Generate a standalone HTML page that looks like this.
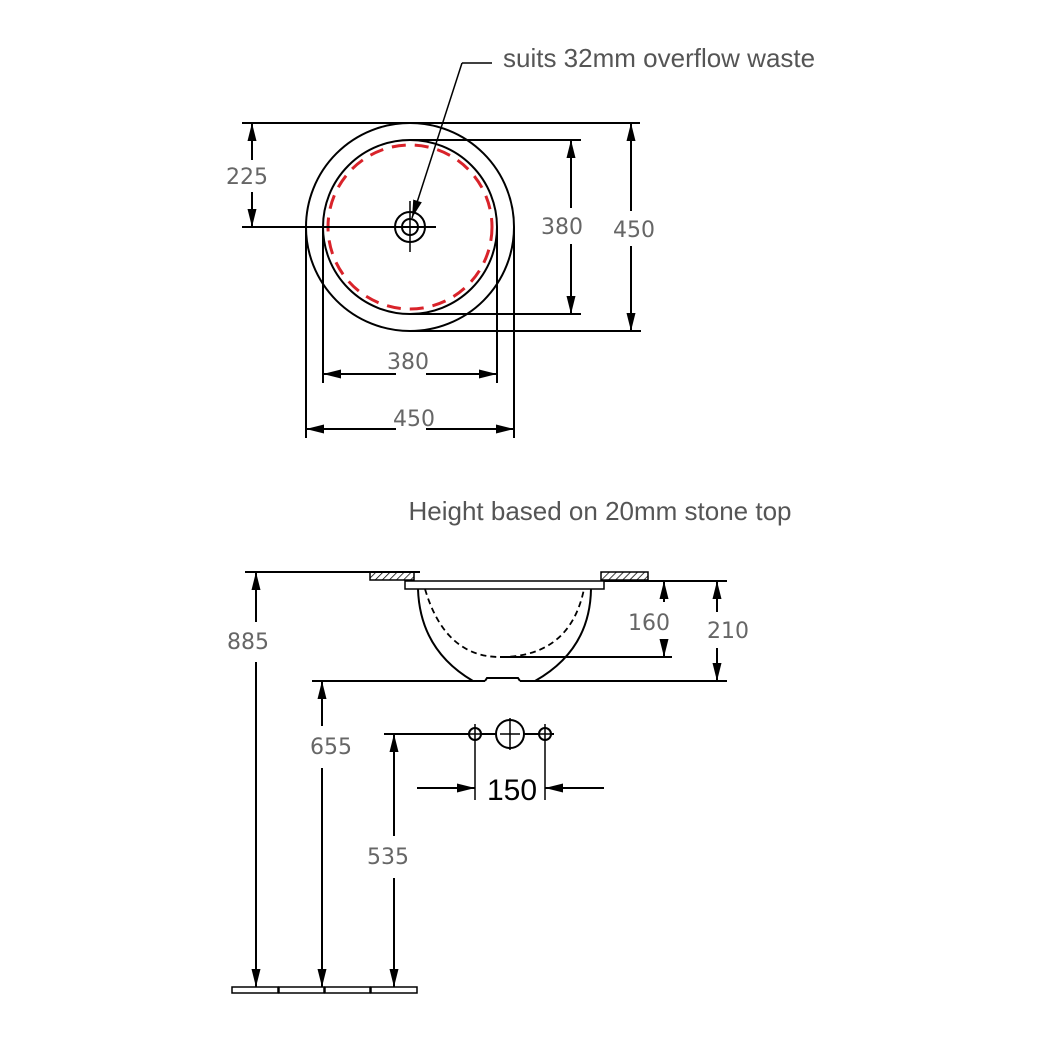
<!DOCTYPE html>
<html><head><style>html,body{margin:0;padding:0;background:#fff}svg{display:block}</style></head><body>
<svg width="1046" height="1048" viewBox="0 0 1046 1048" xmlns="http://www.w3.org/2000/svg" font-family="'DejaVu Sans','Liberation Sans',sans-serif">
<defs>
<marker id="b" viewBox="0 0 20 10" refX="20" refY="5" markerWidth="18" markerHeight="10" orient="auto-start-reverse" markerUnits="userSpaceOnUse"><path d="M0,0 L20,5 L0,10z" fill="#000"/></marker>
<pattern id="h" width="5" height="5" patternUnits="userSpaceOnUse" patternTransform="rotate(45)"><line x1="0" y1="0" x2="0" y2="5" stroke="#000" stroke-width="1.5"/></pattern>
</defs>
<g stroke="#000" stroke-width="2" fill="none">
<circle cx="410" cy="227" r="104"/>
<circle cx="410" cy="227" r="87"/>
<circle cx="410" cy="227" r="82" stroke="#d9232a" stroke-width="3" stroke-dasharray="14,9"/>
<circle cx="410" cy="227" r="15"/>
<circle cx="410" cy="227" r="8"/>
<line x1="410" y1="201" x2="410" y2="252" stroke-width="1.5"/>
<line x1="242" y1="123" x2="640" y2="123"/>
<line x1="242" y1="227" x2="436" y2="227"/>
<line x1="410" y1="140" x2="581" y2="140"/>
<line x1="410" y1="314" x2="581" y2="314"/>
<line x1="410" y1="331" x2="641" y2="331"/>
<line x1="323" y1="227" x2="323" y2="383"/>
<line x1="497" y1="227" x2="497" y2="383"/>
<line x1="306" y1="227" x2="306" y2="438"/>
<line x1="514" y1="227" x2="514" y2="438"/>
<line x1="252" y1="123" x2="252" y2="160" marker-start="url(#b)"/>
<line x1="252" y1="192" x2="252" y2="227" marker-end="url(#b)"/>
<line x1="571" y1="140" x2="571" y2="208" marker-start="url(#b)"/>
<line x1="571" y1="244" x2="571" y2="314" marker-end="url(#b)"/>
<line x1="631" y1="123" x2="631" y2="211" marker-start="url(#b)"/>
<line x1="631" y1="246" x2="631" y2="331" marker-end="url(#b)"/>
<line x1="323" y1="374" x2="396" y2="374" marker-start="url(#b)"/>
<line x1="426" y1="374" x2="497" y2="374" marker-end="url(#b)"/>
<line x1="306" y1="429" x2="396" y2="429" marker-start="url(#b)"/>
<line x1="426" y1="429" x2="514" y2="429" marker-end="url(#b)"/>
<line x1="462" y1="63" x2="412" y2="218" marker-end="url(#b)" stroke-width="1.5"/>
<line x1="462" y1="63" x2="492" y2="63" stroke-width="1.5"/>
<line x1="245" y1="572" x2="420" y2="572"/>
<rect x="370" y="572" width="44" height="8" fill="url(#h)" stroke-width="1.5"/>
<rect x="601" y="572" width="47" height="8" fill="url(#h)" stroke-width="1.5"/>
<rect x="405" y="581" width="199" height="8" stroke-width="1.5"/>
<line x1="604" y1="581" x2="727" y2="581"/>
<path d="M418,589 Q420,650 473,681"/>
<path d="M591,589 Q590,650 535,681"/>
<path d="M425,589 Q445,657 500,657 Q570,657 584,589" stroke-dasharray="6,4" stroke-width="1.8"/>
<line x1="500" y1="657" x2="672" y2="657"/>
<line x1="312" y1="681" x2="485" y2="681"/>
<path d="M485,681 L487,678 L518,678 L520,681"/>
<line x1="520" y1="681" x2="727" y2="681"/>
<line x1="664" y1="581" x2="664" y2="602" marker-start="url(#b)"/>
<line x1="664" y1="640" x2="664" y2="657" marker-end="url(#b)"/>
<line x1="717" y1="581" x2="717" y2="612" marker-start="url(#b)"/>
<line x1="717" y1="648" x2="717" y2="681" marker-end="url(#b)"/>
<line x1="256" y1="572" x2="256" y2="622" marker-start="url(#b)"/>
<line x1="256" y1="662" x2="256" y2="987" marker-end="url(#b)"/>
<line x1="322" y1="681" x2="322" y2="726" marker-start="url(#b)"/>
<line x1="322" y1="768" x2="322" y2="987" marker-end="url(#b)"/>
<line x1="394" y1="734" x2="394" y2="836" marker-start="url(#b)"/>
<line x1="394" y1="878" x2="394" y2="987" marker-end="url(#b)"/>
<line x1="384" y1="734" x2="469" y2="734"/>
<line x1="481" y1="734" x2="496" y2="734"/>
<line x1="524" y1="734" x2="539" y2="734"/>
<line x1="551" y1="734" x2="556" y2="734" stroke-dasharray="3,3"/>
<circle cx="475" cy="734" r="6"/><line x1="469" y1="734" x2="481" y2="734" stroke-width="1.5"/><line x1="475" y1="724" x2="475" y2="800" stroke-width="1.5"/>
<circle cx="545" cy="734" r="6"/><line x1="539" y1="734" x2="551" y2="734" stroke-width="1.5"/><line x1="545" y1="724" x2="545" y2="800" stroke-width="1.5"/>
<circle cx="510" cy="734" r="14"/><line x1="500" y1="734" x2="520" y2="734" stroke-width="1.5"/><line x1="510" y1="718" x2="510" y2="750" stroke-width="1.5"/>
<line x1="417" y1="788" x2="475" y2="788" marker-end="url(#b)"/>
<line x1="604" y1="788" x2="545" y2="788" marker-end="url(#b)"/>
<rect x="232" y="987" width="46" height="6" stroke-width="1.5"/>
<rect x="279" y="987" width="45" height="6" stroke-width="1.5"/>
<rect x="325" y="987" width="45" height="6" stroke-width="1.5"/>
<rect x="371" y="987" width="46" height="6" stroke-width="1.5"/>
</g>
<g fill="#666" font-size="22">
<text x="503" y="67" font-size="26" fill="#555" font-family="'Liberation Sans',sans-serif">suits 32mm overflow waste</text>
<text x="247" y="184" text-anchor="middle">225</text>
<text x="562" y="234" text-anchor="middle">380</text>
<text x="634" y="237" text-anchor="middle">450</text>
<text x="408" y="369" text-anchor="middle">380</text>
<text x="414" y="426" text-anchor="middle">450</text>
<text x="600" y="520" text-anchor="middle" font-size="26" fill="#555" font-family="'Liberation Sans',sans-serif">Height based on 20mm stone top</text>
<text x="649" y="630" text-anchor="middle">160</text>
<text x="728" y="638" text-anchor="middle">210</text>
<text x="248" y="649" text-anchor="middle">885</text>
<text x="331" y="754" text-anchor="middle">655</text>
<text x="388" y="864" text-anchor="middle">535</text>
<text x="512" y="800" text-anchor="middle" font-size="30" fill="#000" font-family="'Liberation Sans',sans-serif">150</text>
</g>
</svg>
</body></html>
